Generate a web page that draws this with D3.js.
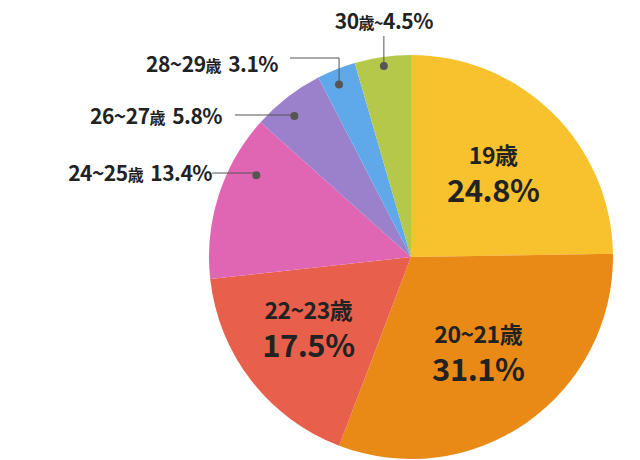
<!DOCTYPE html><html><head><meta charset="utf-8"><script src="https://cdn.jsdelivr.net/npm/d3@7"></script>
<style>body{margin:0;background:#fff}svg{display:block}text{font-family:"Noto Sans CJK JP","Noto Sans",sans-serif;font-weight:700;fill:#222}</style></head><body>
<script>
const categories=["19歳","20~21歳","22~23歳","24~25歳","26~27歳","28~29歳","30歳~"];
const values=[24.8,31.1,17.5,13.4,5.8,3.1,4.5];
const colors=["#F8C22E","#E98A16","#E8604C","#E066B3","#9B80CB","#5FA9EB","#B6C84A"];
const W=640,H=460,cx=411,cy=257,R=202;
const svg=d3.select("body").append("svg").attr("width",W).attr("height",H);
const g=svg.append("g").attr("transform",`translate(${cx},${cy})`);
const pie=d3.pie().sort(null).value(d=>d)(values);
const arc=d3.arc().innerRadius(0).outerRadius(R);
g.selectAll("path").data(pie).join("path").attr("d",arc).attr("fill",(d,i)=>colors[i]);
const inArc=d3.arc().innerRadius(R*0.58).outerRadius(R*0.58);
[0,1,2].forEach(i=>{const [x,y]=inArc.centroid(pie[i]);
 const off=i==2?[-10,0]:[0,0];
 g.append("text").attr("x",x+off[0]).attr("y",y-10).attr("text-anchor","middle").attr("font-size",23).attr("letter-spacing",-0.5).text(categories[i]);
 g.append("text").attr("x",x+off[0]).attr("y",y+28).attr("text-anchor","middle").attr("font-size",31).attr("letter-spacing",-0.5).text(values[i].toFixed(1)+"%");});
// outer label layout: [label x (end), baseline y, line y, line start x, dot fraction within slice, dot radius]
const outer={3:[212,181,173,212,0.71,175],4:[222,124,115,235,0.41,183],5:[278,72,58,290,0.42,187],6:[null,29,null,null,0.5,193]};
Object.entries(outer).forEach(([k,o])=>{const i=+k;const p=pie[i];const a=p.startAngle+(p.endAngle-p.startAngle)*o[4];
 const px=cx+o[5]*Math.sin(a),py=cy-o[5]*Math.cos(a);
 if(i===6){
  const t=svg.append("text").attr("x",px).attr("y",o[1]).attr("text-anchor","middle").attr("font-size",21).attr("letter-spacing",-0.5);
  t.append("tspan").text("30");t.append("tspan").attr("font-size",16).text("歳~");t.append("tspan").text(values[i].toFixed(1)+"%");
  svg.append("path").attr("d",`M${px},36V${py}`).attr("stroke","#555").attr("fill","none");
 } else {
  const t=svg.append("text").attr("x",o[0]).attr("y",o[1]).attr("text-anchor","end").attr("font-size",21).attr("letter-spacing",-0.5);
  const c=categories[i];t.append("tspan").text(c.replace("歳",""));t.append("tspan").attr("font-size",16).text("歳 ");
  t.append("tspan").attr("dx",4).text(values[i].toFixed(1)+"%");
  svg.append("path").attr("d",`M${o[3]},${o[2]}H${px}V${py}`).attr("stroke","#555").attr("fill","none");
 }
 svg.append("circle").attr("cx",px).attr("cy",py).attr("r",4).attr("fill","#555");
});
</script></body></html>
